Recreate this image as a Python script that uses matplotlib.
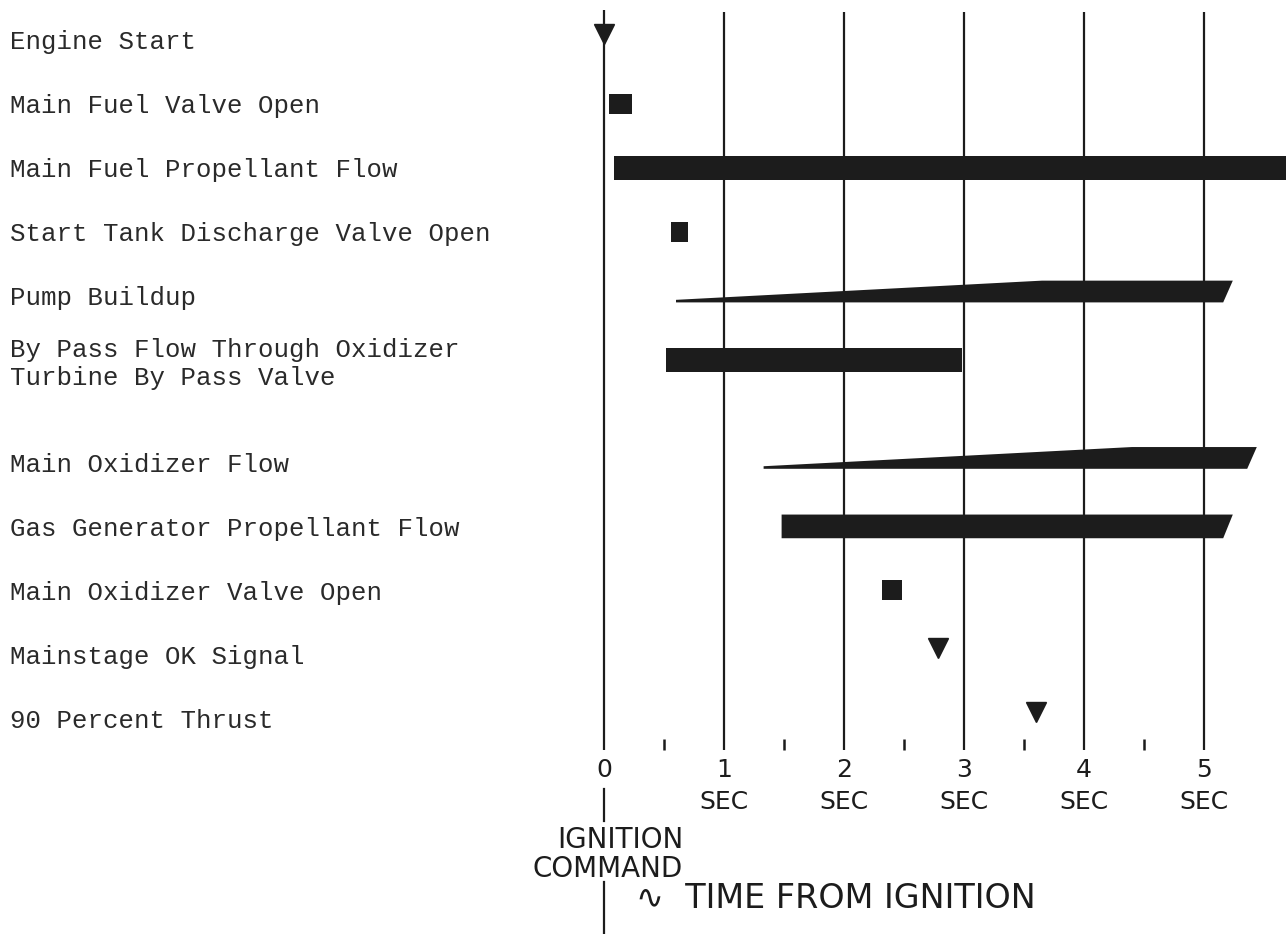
import matplotlib.pyplot as plt

# ---------------- data ----------------
events = [
    "Engine Start",
    "Main Fuel Valve Open",
    "Main Fuel Propellant Flow",
    "Start Tank Discharge Valve Open",
    "Pump Buildup",
    "By Pass Flow Through Oxidizer\nTurbine By Pass Valve",
    "Main Oxidizer Flow",
    "Gas Generator Propellant Flow",
    "Main Oxidizer Valve Open",
    "Mainstage OK Signal",
    "90 Percent Thrust",
]
rows = [0, 1, 2, 3, 4, 5, 6.6, 7.6, 8.6, 9.6, 10.6]

# signals (triangles): row index, time (sec)
signal_idx = [0, 9, 10]
signal_t = [0.0, 2.78, 3.60]

# valve openings (squares)
valve_idx = [1, 3, 8]
valve_start = [0.04, 0.56, 2.32]
valve_end = [0.23, 0.70, 2.48]

# steady flows
flow_idx = [2, 5, 7]
flow_start = [0.08, 0.52, 1.48]
flow_end = [5.70, 2.98, 5.24]
flow_slant = [0.0, 0.0, 0.08]

# build-up flows: thin at start, full at ramp_full
ramp_idx = [4, 6]
ramp_start = [0.60, 1.33]
ramp_full = [3.65, 4.40]
ramp_end = [5.24, 5.44]

seconds = [0, 1, 2, 3, 4, 5]
half_seconds = [0.5, 1.5, 2.5, 3.5, 4.5]
sec_labels = ["0", "1\nSEC", "2\nSEC", "3\nSEC", "4\nSEC", "5\nSEC"]

ink = "#1c1c1c"
hand = dict(family="DejaVu Sans", color=ink)

# ---------------- figure ----------------
fig = plt.figure(figsize=(12.86, 9.34), dpi=100)
ax = fig.add_axes([590 / 1286, 1 - 750 / 934, 1 - 590 / 1286, 750 / 934])
ax.set_xlim(-14 / 120, 682 / 120)
ax.set_ylim(710 / 64, -40 / 64)

for s in ax.spines.values():
    s.set_visible(False)

# time grid
ax.vlines(seconds[1:], -0.44, 11.1, color=ink, lw=1.6, zorder=1)
ax.vlines(0, -0.47, 11.1, color=ink, lw=1.6, zorder=1)
# continuation of the ignition line below the axis
ax.plot([0, 0], [11.7, 12.2], color=ink, lw=1.6, clip_on=False)
ax.plot([0, 0], [13.15, 14.0], color=ink, lw=1.6, clip_on=False)

# steady flows
for i, s, e, sl in zip(flow_idx, flow_start, flow_end, flow_slant):
    y = rows[i]
    h = 0.37
    ax.fill([s, e, e - sl, s], [y - h / 2, y - h / 2, y + h / 2, y + h / 2],
            color=ink, lw=0, zorder=2)

# build-up flows
for i, s, f, e in zip(ramp_idx, ramp_start, ramp_full, ramp_end):
    y = rows[i]
    top, bot = y - 0.24, y + 0.10
    ax.fill([s, f, e, e - 0.08, s], [bot - 0.04, top, top, bot, bot],
            color=ink, lw=0, zorder=2)

# valve openings
ax.barh([rows[i] for i in valve_idx],
        [e - s for s, e in zip(valve_start, valve_end)],
        left=valve_start, height=0.31, color=ink, zorder=3)

# signals
ax.plot(signal_t, [rows[i] - 0.1 for i in signal_idx], "v",
        color=ink, ms=14, zorder=3, clip_on=False)

# y labels (event names)
ax.set_yticks(rows, events)
ax.tick_params(axis="y", length=0, pad=580 * 0.72)
for lbl in ax.get_yticklabels():
    lbl.set_horizontalalignment("left")
    lbl.set_fontfamily("Liberation Mono")
    lbl.set_fontsize(18.5)
    lbl.set_color("#2a2a2a")

# x axis
ax.set_xticks(seconds, sec_labels)
ax.set_xticks(half_seconds, minor=True)
ax.tick_params(axis="x", which="major", length=0, pad=6)
ax.tick_params(axis="x", which="minor", direction="in", length=8,
               width=1.8, color=ink)
for lbl in ax.get_xticklabels():
    lbl.set_fontfamily("DejaVu Sans")
    lbl.set_fontsize(18)
    lbl.set_color(ink)
    lbl.set_linespacing(1.4)

ax.text(0.66, 12.72, "IGNITION\nCOMMAND", ha="right", va="center",
        linespacing=1.05, clip_on=False, size=20, **hand)
ax.text(0.27, 13.42, "\u223f  TIME FROM IGNITION", ha="left", va="center",
        clip_on=False, size=24, **hand)

fig.savefig("out.png", dpi=100)
